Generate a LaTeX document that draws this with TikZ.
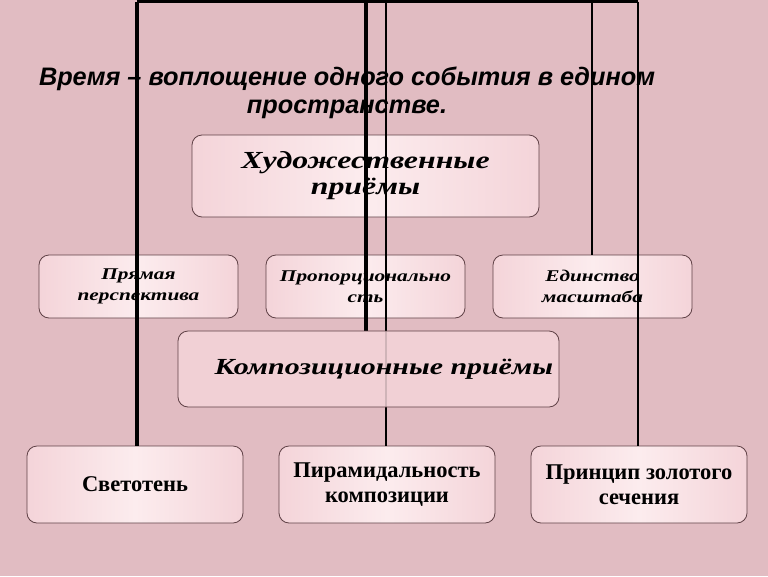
\documentclass[tikz,border=0pt]{standalone}
\usepackage{fontspec}
\setmainfont{Liberation Serif}
\newfontfamily\sansf{Liberation Sans}
\newfontfamily\artf[FakeStretch=1.3]{Liberation Serif}
\definecolor{bg}{RGB}{225,188,194}
\definecolor{boxc}{RGB}{244,212,217}
\definecolor{boxm}{RGB}{252,236,238}
\definecolor{boxe}{RGB}{95,65,70}
\tikzset{
  boxA/.style={draw=boxe, line width=0.8pt, rounded corners=10pt, left color=boxc, right color=boxc, middle color=boxm, inner sep=2pt, align=center, text=black},
  boxIt/.style={boxA},
  boxUp/.style={boxA},
  thinlink/.style={line width=1.7pt, black},
  thicklink/.style={line width=3.2pt, black}
}
\begin{document}
\begin{tikzpicture}[x=1pt,y=-1pt]
\useasboundingbox (0,0) rectangle (768,576);
\fill[bg] (0,0) rectangle (768,576);
% title
\node[font=\sansf\bfseries\itshape\fontsize{25.3}{28}\selectfont, align=center] (title) at (347,93) {Время – воплощение одного события в едином\\пространстве.};
% boxes
\node[boxIt, minimum width=347pt, minimum height=82pt, font=\artf\bfseries\itshape\fontsize{24.5}{26}\selectfont] (art) at (365.5,176) {Художественные\\приёмы};
\node[boxIt, minimum width=199pt, minimum height=63pt, font=\artf\bfseries\itshape\fontsize{16.4}{21}\selectfont] (p1) at (138.5,286.5) {Прямая\\перспектива};
\node[boxIt, minimum width=199pt, minimum height=63pt, font=\artf\bfseries\itshape\fontsize{16.4}{21}\selectfont] (p2) at (365.5,286.5) {Пропорционально\\сть};
\node[boxIt, minimum width=199pt, minimum height=63pt, font=\artf\bfseries\itshape\fontsize{16.4}{21}\selectfont] (p3) at (592.5,286.5) {Единство\\масштаба};
\node[boxUp, minimum width=216pt, minimum height=77pt, font=\bfseries\fontsize{22.5}{25}\selectfont] (s1) at (135,484.5) {Светотень};
\node[boxUp, minimum width=216pt, minimum height=77pt, font=\bfseries\fontsize{22.5}{25}\selectfont] (s2) at (387,484.5) {Пирамидальность\\композиции};
\node[boxUp, minimum width=216pt, minimum height=77pt, font=\bfseries\fontsize{22.5}{25}\selectfont] (s3) at (639,484.5) {Принцип золотого\\сечения};
% connectors
\coordinate (tL) at (137,1.5);
\coordinate (tA) at (366,1.5);
\coordinate (tB) at (386,1.5);
\coordinate (tC) at (592,1.5);
\coordinate (tR) at (638,1.5);
\draw[thicklink] (tL) -- (tR);
\draw[thicklink] (tL) -- (tL |- s1.north);
\draw[thicklink] (tA) -- (366,331);
\draw[thinlink] (tB) -- (tB |- s2.north);
\draw[thinlink] (tC) -- (tC |- p3.north);
\draw[thinlink] (tR) -- (tR |- s3.north);
% composition box over the lines
\node[draw=boxe, line width=0.8pt, rounded corners=10pt, fill=boxc, fill opacity=0.85, minimum width=381pt, minimum height=76pt] (komp) at (368.5,369) {};
\node[font=\artf\bfseries\itshape\fontsize{23}{26}\selectfont] (kt) at (384,369) {Композиционные приёмы};
\end{tikzpicture}
\end{document}
